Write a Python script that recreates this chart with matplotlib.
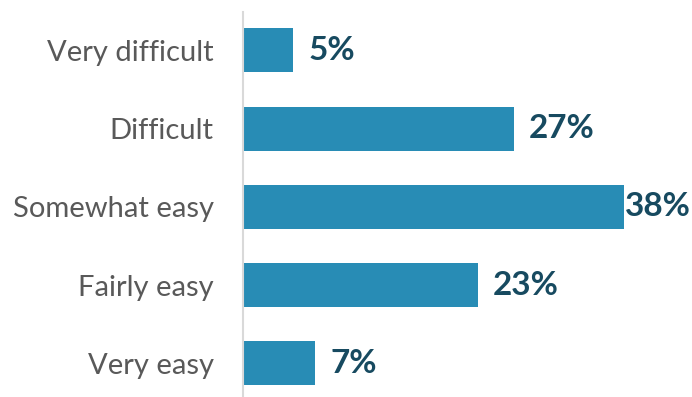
import matplotlib
matplotlib.use("Agg")
import matplotlib.pyplot as plt

categories = ["Very difficult", "Difficult", "Somewhat easy", "Fairly easy", "Very easy"]
values = [5, 27, 38, 23.4, 7.2]
labels = ["5%", "27%", "38%", "23%", "7%"]

BAR = "#288cb5"
LAB = "#174a60"

fig = plt.figure(figsize=(6.92, 3.97), dpi=100)
ax = fig.add_axes([243 / 692, 0, 449 / 692, 385 / 397])

y = list(range(len(categories)))[::-1]
ax.barh(y, values, height=0.56, color=BAR)

xmax = 449 / 10.03
ax.set_xlim(0, xmax)
ax.set_ylim(-0.43, 4.49)

for yi, v, t in zip(y, values, labels):
    x = min(v + 1.5, xmax - 6.7)
    ax.text(x, yi, t, va="center", ha="left", fontsize=24, fontweight="bold",
            color=LAB, family="Lato")

ax.set_yticks(y)
ax.set_yticklabels(categories, fontsize=21, color="#595959", family="Lato")
ax.tick_params(axis="y", length=0, pad=21)
ax.set_xticks([])
for s in ["top", "right", "bottom"]:
    ax.spines[s].set_visible(False)
ax.spines["left"].set_color("#d9d9d9")
ax.spines["left"].set_linewidth(1.5)

fig.savefig("out.png", dpi=100)
